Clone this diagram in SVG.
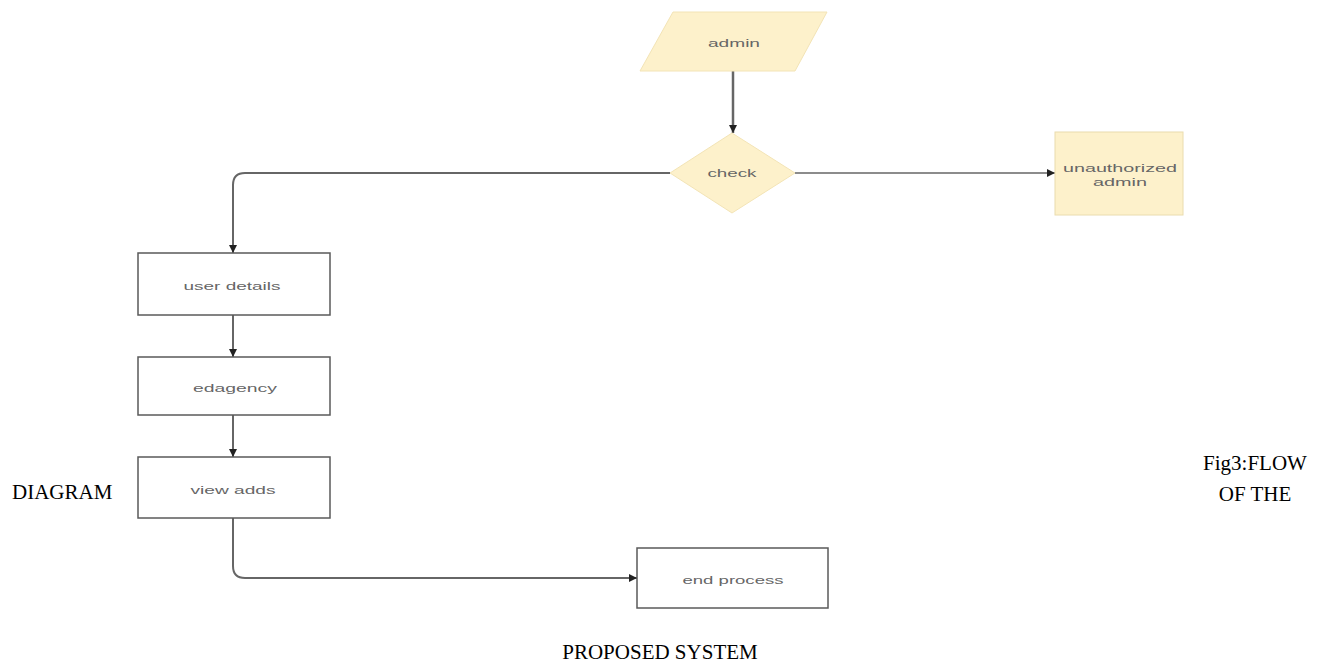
<svg xmlns="http://www.w3.org/2000/svg" width="1320" height="664" viewBox="0 0 1320 664">
<style>
.box{fill:#ffffff;stroke:#5a5a5a;stroke-width:1.5}
.yel{fill:#fdf1cb;stroke:#f3e4b6;stroke-width:1}
.lbl{font-family:"Liberation Sans",Arial,sans-serif;font-size:11px;fill:#666;text-anchor:middle}
.cap{font-family:"Liberation Serif","Times New Roman",serif;font-size:21px;fill:#000}
.edge{fill:none;stroke:#666;stroke-width:2}
</style>
<defs>
<marker id="arr" viewBox="0 0 10 10" refX="10" refY="5" markerWidth="8" markerHeight="9" markerUnits="userSpaceOnUse" orient="auto">
<path d="M0,0 L10,5 L0,10 z" fill="#222"/>
</marker>
</defs>
<rect width="1320" height="664" fill="#fff"/>
<g id="connectors">
<path class="edge" d="M733,71 L733,133" marker-end="url(#arr)" style="stroke-width:2.5"/>
<path class="edge" d="M670,173 L245,173 Q233,173 233,185 L233,253" marker-end="url(#arr)"/>
<path class="edge" d="M795,173 L1055,173" marker-end="url(#arr)" style="stroke-width:1.5"/>
<path class="edge" d="M233,315 L233,357" marker-end="url(#arr)"/>
<path class="edge" d="M233,415 L233,457" marker-end="url(#arr)"/>
<path class="edge" d="M233,518 L233,566 Q233,578 245,578 L637,578" marker-end="url(#arr)"/>
</g>
<g id="admin">
<polygon class="yel" points="673,12 827,12 795,71 640,71"/>
<text class="lbl" x="734" y="47" textLength="52" lengthAdjust="spacingAndGlyphs">admin</text>
</g>
<g id="check">
<polygon class="yel" points="732,133 795,173 732,213 670,173"/>
<text class="lbl" x="732" y="177" textLength="49" lengthAdjust="spacingAndGlyphs">check</text>
</g>
<g id="unauthorized">
<rect class="yel" x="1055" y="132" width="128" height="83" style="stroke:#eadcae"/>
<text class="lbl" x="1120" y="172" textLength="114" lengthAdjust="spacingAndGlyphs">unauthorized</text>
<text class="lbl" x="1120" y="186" textLength="54" lengthAdjust="spacingAndGlyphs">admin</text>
</g>
<g id="userdetails">
<rect class="box" x="138" y="253" width="192" height="62"/>
<text class="lbl" x="232" y="290" textLength="97" lengthAdjust="spacingAndGlyphs">user details</text>
</g>
<g id="edagency">
<rect class="box" x="138" y="357" width="192" height="58"/>
<text class="lbl" x="235" y="392" textLength="84" lengthAdjust="spacingAndGlyphs">edagency</text>
</g>
<g id="viewadds">
<rect class="box" x="138" y="457" width="192" height="61"/>
<text class="lbl" x="233" y="494" textLength="85" lengthAdjust="spacingAndGlyphs">view adds</text>
</g>
<g id="endprocess">
<rect class="box" x="637" y="548" width="191" height="60"/>
<text class="lbl" x="733" y="584" textLength="101" lengthAdjust="spacingAndGlyphs">end process</text>
</g>
<g id="caption">
<text class="cap" x="1255" y="470" text-anchor="middle">Fig3:FLOW</text>
<text class="cap" x="1255" y="501" text-anchor="middle">OF THE</text>
<text class="cap" x="12" y="499">DIAGRAM</text>
<text class="cap" x="660" y="659" text-anchor="middle">PROPOSED SYSTEM</text>
</g>
</svg>
